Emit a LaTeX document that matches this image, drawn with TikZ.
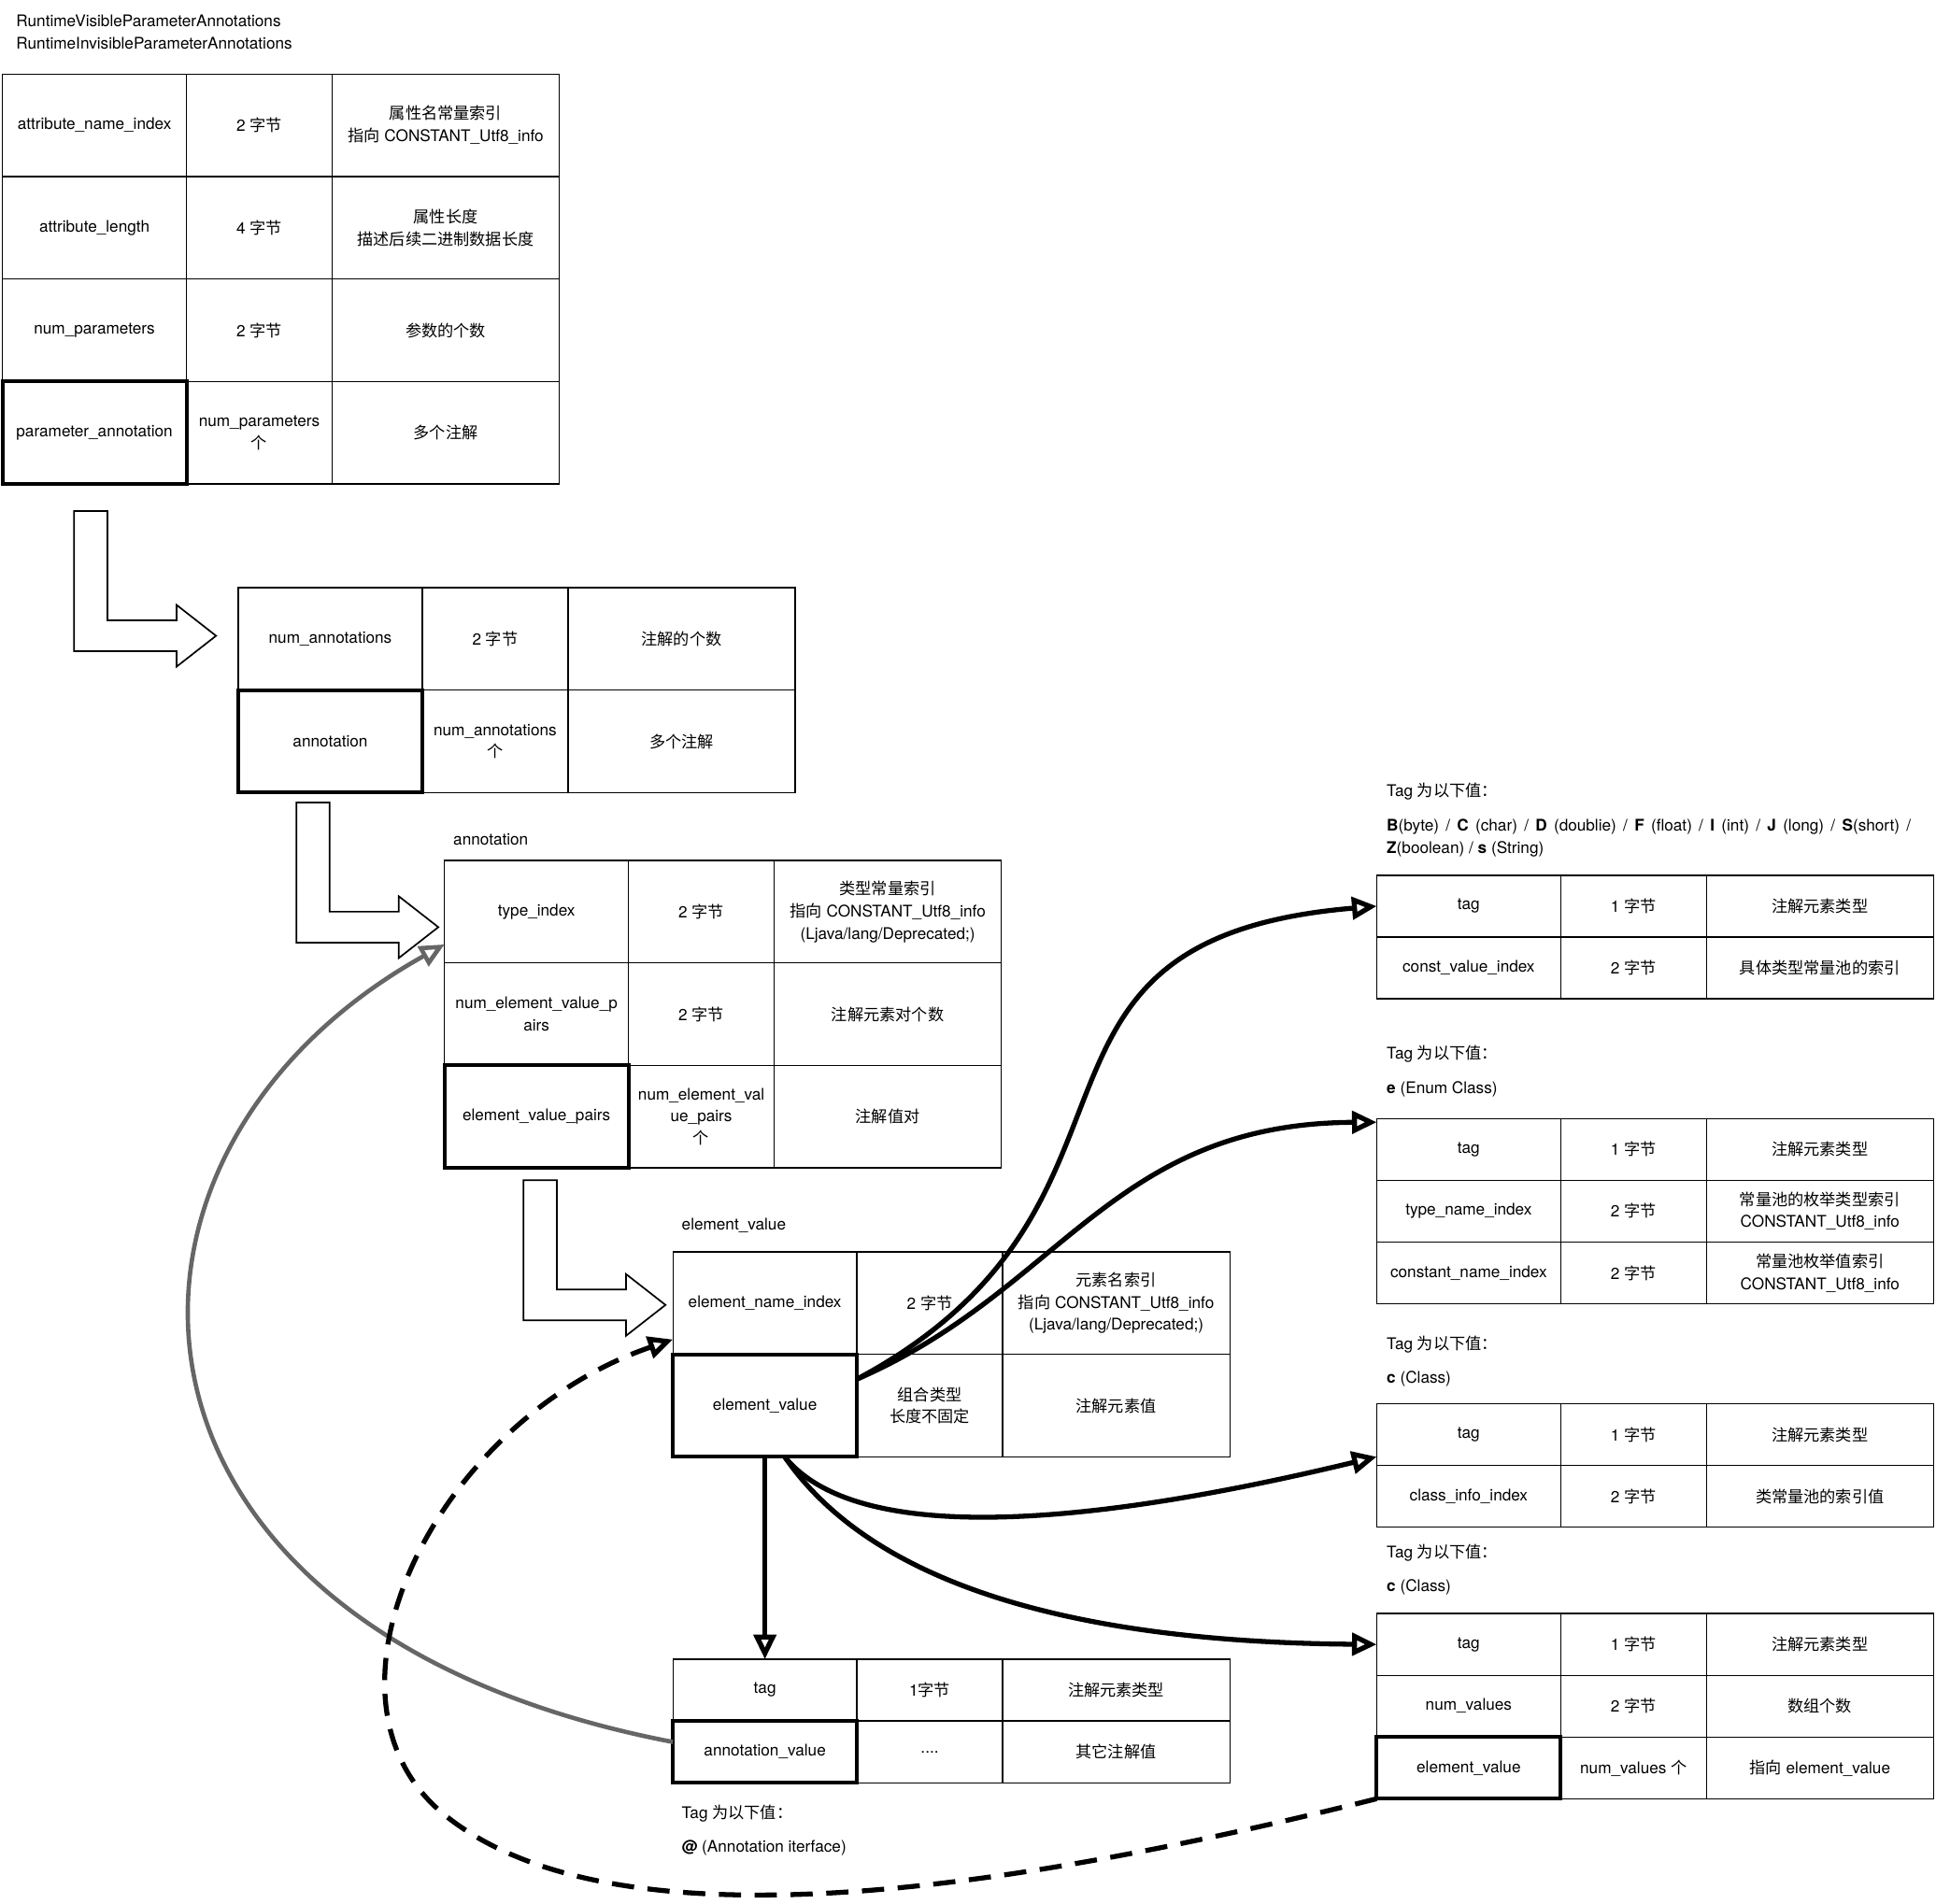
\documentclass[tikz,border=0pt]{standalone}
\usepackage{fontspec}
\setmainfont{TeX Gyre Heros}
\newfontfamily\cjk{Noto Sans CJK SC}
\newcommand{\zh}[1]{{\cjk #1}}
\usetikzlibrary{arrows.meta, positioning}
\definecolor{linkgray}{HTML}{666666}

\begin{document}
\begin{tikzpicture}[
    x=1pt, y=-1pt,
    font=\fontsize{13}{18}\selectfont,
    cell/.style={draw, line width=1pt, align=center, inner sep=0pt, outer sep=0pt, minimum height=83pt},
    wa/.style={cell, minimum width=149pt},
    wb/.style={cell, minimum width=118pt},
    wc/.style={cell, minimum width=184pt},
    low/.style={minimum height=50pt},
    heavy/.style={line width=3pt},
    note/.style={anchor=west, align=left, inner sep=0pt},
    link/.style={line width=4pt, -{Triangle[length=20pt, width=18pt, fill=white]}},
    backlink/.style={link, line width=3.5pt, draw=linkgray},
    recur/.style={link, dash pattern=on 18pt off 11pt},
    bend/.pic={\draw[line width=1.3pt, fill=white] (-115,-101) -- (-88,-101) -- (-88,-12.5) -- (-32,-12.5) -- (-32,-25) -- (0,0) -- (-32,25) -- (-32,12.5) -- (-115,12.5) -- cycle;}
]
\useasboundingbox (0,0) rectangle (1568,1542);

\node[note] (title) at (13,26) {RuntimeVisibleParameterAnnotations\\RuntimeInvisibleParameterAnnotations};

% attribute table
\node[wa, anchor=north west] (ani) at (2,60) {attribute\_name\_index};
\node[wb, right=0pt of ani] (anib) {2 \zh{字节}};
\node[wc, right=0pt of anib] (anic) {\zh{属性名常量索引}\\\zh{指向} CONSTANT\_Utf8\_info};
\node[wa, below=0pt of ani] (al) {attribute\_length};
\node[wb, right=0pt of al] (alb) {4 \zh{字节}};
\node[wc, right=0pt of alb] (alc) {\zh{属性长度}\\\zh{描述后续二进制数据长度}};
\node[wa, below=0pt of al] (np) {num\_parameters};
\node[wb, right=0pt of np] (npb) {2 \zh{字节}};
\node[wc, right=0pt of npb] (npc) {\zh{参数的个数}};
\node[wa, heavy, below=0pt of np] (pa) {parameter\_annotation};
\node[wb, right=0pt of pa] (pab) {num\_parameters\\\zh{个}};
\node[wc, right=0pt of pab] (pac) {\zh{多个注解}};

% parameter_annotation
\node[wa, anchor=north west] (na) at (193,476) {num\_annotations};
\node[wb, right=0pt of na] (nab) {2 \zh{字节}};
\node[wc, right=0pt of nab] (nac) {\zh{注解的个数}};
\node[wa, heavy, below=0pt of na] (an) {annotation};
\node[wb, right=0pt of an] (anb) {num\_annotations\\\zh{个}};
\node[wc, right=0pt of anb] (anc) {\zh{多个注解}};

% annotation
\node[note] (annlabel) at (367,680) {annotation};
\node[wa, anchor=north west] (ti) at (360,697) {type\_index};
\node[wb, right=0pt of ti] (tib) {2 \zh{字节}};
\node[wc, right=0pt of tib] (tic) {\zh{类型常量索引}\\\zh{指向} CONSTANT\_Utf8\_info\\(Ljava/lang/Deprecated;)};
\node[wa, below=0pt of ti] (nevp) {num\_element\_value\_p\\airs};
\node[wb, right=0pt of nevp] (nevpb) {2 \zh{字节}};
\node[wc, right=0pt of nevpb] (nevpc) {\zh{注解元素对个数}};
\node[wa, heavy, below=0pt of nevp] (evp) {element\_value\_pairs};
\node[wb, right=0pt of evp] (evpb) {num\_element\_val\\ue\_pairs\\\zh{个}};
\node[wc, right=0pt of evpb] (evpc) {\zh{注解值对}};

% element_value_pairs
\node[note] (evlabel) at (552,993) {element\_value};
\node[wa, anchor=north west] (eni) at (545,1014) {element\_name\_index};
\node[wb, right=0pt of eni] (enib) {2 \zh{字节}};
\node[wc, right=0pt of enib] (enic) {\zh{元素名索引}\\\zh{指向} CONSTANT\_Utf8\_info\\(Ljava/lang/Deprecated;)};
\node[wa, heavy, below=0pt of eni] (ev) {element\_value};
\node[wb, right=0pt of ev] (evb) {\zh{组合类型}\\\zh{长度不固定}};
\node[wc, right=0pt of evb] (evc) {\zh{注解元素值}};

% @ annotation
\node[wa, low, anchor=north west] (atag) at (545,1344) {tag};
\node[wb, low, right=0pt of atag] (atagb) {1\zh{字节}};
\node[wc, low, right=0pt of atagb] (atagc) {\zh{注解元素类型}};
\node[wa, low, heavy, below=0pt of atag] (av) {annotation\_value};
\node[wb, low, right=0pt of av] (avb) {....};
\node[wc, low, right=0pt of avb] (avc) {\zh{其它注解值}};
\node[note] (atagnote) at (552,1469) {Tag \zh{为以下值：}};
\node[note] (atagval) at (552,1497) {\textbf{@} (Annotation iterface)};

% const value
\node[note] (ctagnote) at (1123,641) {Tag \zh{为以下值：}};
\node[note] (ctagval) at (1123,679) {\spaceskip=5.5pt \textbf{B}(byte) / \textbf{C} (char) / \textbf{D} (doublie) / \textbf{F} (float) / \textbf{I} (int) / \textbf{J} (long) / \textbf{S}(short) /\\\textbf{Z}(boolean) / \textbf{s} (String)};
\node[wa, low, anchor=north west] (ctag) at (1115,709) {tag};
\node[wb, low, right=0pt of ctag] (ctagb) {1 \zh{字节}};
\node[wc, low, right=0pt of ctagb] (ctagc) {\zh{注解元素类型}};
\node[wa, low, below=0pt of ctag] (cvi) {const\_value\_index};
\node[wb, low, right=0pt of cvi] (cvib) {2 \zh{字节}};
\node[wc, low, right=0pt of cvib] (cvic) {\zh{具体类型常量池的索引}};

% enum
\node[note] (etagnote) at (1123,854) {Tag \zh{为以下值：}};
\node[note] (etagval) at (1123,882) {\textbf{e} (Enum Class)};
\node[wa, low, anchor=north west] (etag) at (1115,906) {tag};
\node[wb, low, right=0pt of etag] (etagb) {1 \zh{字节}};
\node[wc, low, right=0pt of etagb] (etagc) {\zh{注解元素类型}};
\node[wa, low, below=0pt of etag] (tni) {type\_name\_index};
\node[wb, low, right=0pt of tni] (tnib) {2 \zh{字节}};
\node[wc, low, right=0pt of tnib] (tnic) {\zh{常量池的枚举类型索引}\\CONSTANT\_Utf8\_info};
\node[wa, low, below=0pt of tni] (cni) {constant\_name\_index};
\node[wb, low, right=0pt of cni] (cnib) {2 \zh{字节}};
\node[wc, low, right=0pt of cnib] (cnic) {\zh{常量池枚举值索引}\\CONSTANT\_Utf8\_info};

% class
\node[note] (ktagnote) at (1123,1089) {Tag \zh{为以下值：}};
\node[note] (ktagval) at (1123,1117) {\textbf{c} (Class)};
\node[wa, low, anchor=north west] (ktag) at (1115,1137) {tag};
\node[wb, low, right=0pt of ktag] (ktagb) {1 \zh{字节}};
\node[wc, low, right=0pt of ktagb] (ktagc) {\zh{注解元素类型}};
\node[wa, low, below=0pt of ktag] (cii) {class\_info\_index};
\node[wb, low, right=0pt of cii] (ciib) {2 \zh{字节}};
\node[wc, low, right=0pt of ciib] (ciic) {\zh{类常量池的索引值}};

% array
\node[note] (rtagnote) at (1123,1258) {Tag \zh{为以下值：}};
\node[note] (rtagval) at (1123,1286) {\textbf{c} (Class)};
\node[wa, low, anchor=north west] (rtag) at (1115,1307) {tag};
\node[wb, low, right=0pt of rtag] (rtagb) {1 \zh{字节}};
\node[wc, low, right=0pt of rtagb] (rtagc) {\zh{注解元素类型}};
\node[wa, low, below=0pt of rtag] (nv) {num\_values};
\node[wb, low, right=0pt of nv] (nvb) {2 \zh{字节}};
\node[wc, low, right=0pt of nvb] (nvc) {\zh{数组个数}};
\node[wa, low, heavy, below=0pt of nv] (rev) {element\_value};
\node[wb, low, right=0pt of rev] (revb) {num\_values \zh{个}};
\node[wc, low, right=0pt of revb] (revc) {\zh{指向} element\_value};

\pic at (175,515) {bend};
\pic at (355,751) {bend};
\pic at (539,1057) {bend};

\draw[link] (ev.16) .. controls (958,976) and (794,761) .. (ctag.west);
\draw[link] (ev.16) .. controls (860,1045) and (900,910) .. ([yshift=-3pt]etag.north west);
\draw[link] ([xshift=16pt]ev.south) .. controls (692,1250) and (870,1239) .. ([yshift=7pt]ktag.south west);
\draw[link] ([xshift=16pt]ev.south) .. controls (705,1281) and (863,1330) .. (rtag.west);
\draw[link] (ev.south) -- (atag.north);
\draw[backlink] ([yshift=8pt]av.west) .. controls (70,1320) and (55,935) .. ([yshift=15pt]ti.south west);
\draw[recur] (rev.south west) .. controls (795,1537) and (492,1577) .. (360,1470) .. controls (243.5,1375.5) and (352,1151) .. ([yshift=12pt]eni.south west);
\end{tikzpicture}
\end{document}
